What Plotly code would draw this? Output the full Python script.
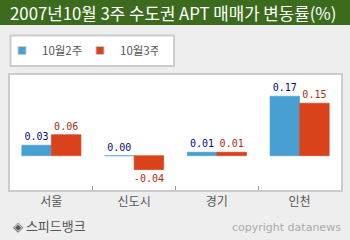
import plotly.graph_objects as go

categories = ["서울", "신도시", "경기", "인천"]
series_names = ["10월2주", "10월3주"]
week2 = [0.03, 0.00, 0.01, 0.17]
week3 = [0.06, -0.04, 0.01, 0.15]
title_text = "2007년10월 3주 수도권 APT 매매가 변동률(%)"
source_text = "◈ 스피드뱅크"
copyright_text = "copyright datanews"

W, H = 350, 240
ML, MR, MT, MB = 10, 9, 75, 50
PW, PH = W - ML - MR, H - MT - MB


def fx(px):
    return (px - ML) / PW


def fy(py):
    return (H - MB - py) / PH


bar_colors = ["#48a0d2", "#d9421a"]
text_colors = ["#0a0a80", "#a8300e"]
mono = "DejaVu Sans Mono"
kr = "Noto Sans CJK KR"

fig = go.Figure()
for name, vals, c, tc in zip(series_names, [week2, week3], bar_colors, text_colors):
    fig.add_trace(go.Bar(
        x=categories, y=vals, name=name, showlegend=False,
        marker=dict(color=c, line=dict(color=c, width=0.6)),
        text=[f"{v:.2f}" for v in vals], textposition="outside",
        textfont=dict(family=mono, size=10, color=tc),
        constraintext="none", cliponaxis=False,
    ))
    fig.add_trace(go.Scatter(
        x=[None], y=[None], mode="markers", name=name, showlegend=True,
        marker=dict(symbol="square", size=8, color=c, line=dict(color="#c8c8c8", width=1)),
    ))

fig.update_layout(
    width=W, height=H,
    margin=dict(l=ML, r=MR, t=MT, b=MB, autoexpand=False),
    paper_bgcolor="#eeeeee", plot_bgcolor="#ffffff",
    barmode="group", bargap=0.285, bargroupgap=0,
    showlegend=True,
    legend=dict(
        orientation="h", x=fx(2), y=fy(36), xanchor="left", yanchor="top",
        bgcolor="rgba(0,0,0,0)", borderwidth=0,
        font=dict(family=kr, size=11.5, color="#555555"),
        entrywidth=33, entrywidthmode="pixels", itemwidth=30,
    ),
    xaxis=dict(
        type="category", tickson="boundaries", ticks="inside", ticklen=4,
        tickcolor="#999999", tickwidth=1, showgrid=False,
        showline=True, mirror=True, linecolor="#cccccc", linewidth=2,
        tickfont=dict(family=kr, size=12, color="#555555"),
        fixedrange=True,
    ),
    yaxis=dict(
        range=[-0.098, 0.2306], showticklabels=False, showgrid=False,
        zeroline=False, ticks="", showline=True, mirror=True,
        linecolor="#cccccc", linewidth=2,
    ),
    shapes=[
        dict(type="rect", xref="paper", yref="paper",
             x0=fx(-5), x1=fx(360), y0=fy(25), y1=fy(-5),
             fillcolor="#3c6b1e", line=dict(width=0), layer="below"),
        dict(type="rect", xref="paper", yref="paper",
             x0=fx(10.5), x1=fx(174), y0=fy(66), y1=fy(35.5),
             fillcolor="#ffffff", line=dict(color="#cccccc", width=2), layer="below"),
    ],
    annotations=[
        dict(text=title_text, xref="paper", yref="paper", x=fx(8), y=fy(12.5),
             xanchor="left", yanchor="middle", showarrow=False,
             font=dict(family=kr, size=16.8, color="#ffffff")),
        dict(text=source_text, xref="paper", yref="paper", x=fx(11), y=fy(225),
             xanchor="left", yanchor="middle", showarrow=False,
             font=dict(family=kr, size=13, color="#555555")),
        dict(text=copyright_text, xref="paper", yref="paper", x=fx(343), y=fy(228),
             xanchor="right", yanchor="middle", showarrow=False,
             font=dict(family="DejaVu Sans", size=11, color="#aaaaaa")),
    ],
)

fig.write_html("out.html")
